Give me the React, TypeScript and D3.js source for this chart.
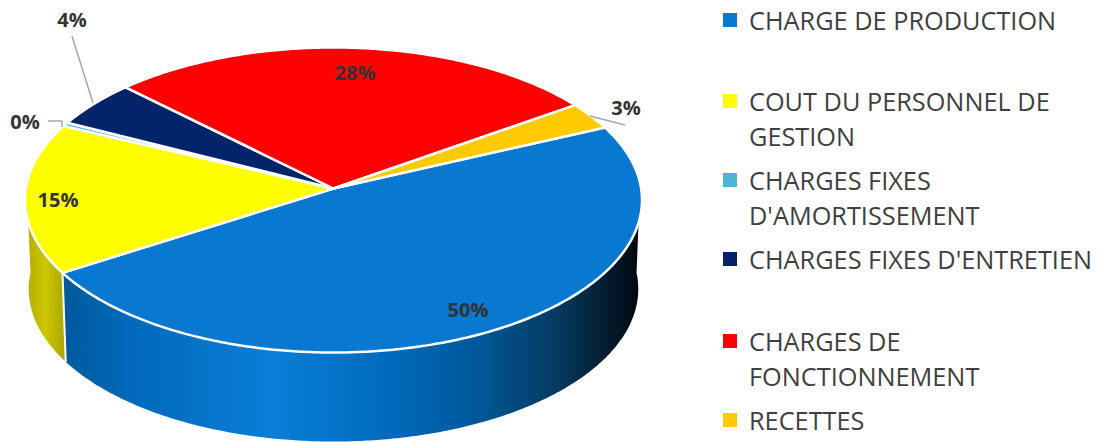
import React from "react";
import * as d3 from "d3";

const categories = [
  ["CHARGE DE PRODUCTION"],
  ["COUT DU PERSONNEL DE", "GESTION"],
  ["CHARGES FIXES", "D'AMORTISSEMENT"],
  ["CHARGES FIXES D'ENTRETIEN"],
  ["CHARGES DE", "FONCTIONNEMENT"],
  ["RECETTES"],
];
// printed labels
const percentLabels = ["50%", "15%", "0%", "4%", "28%", "3%"];
// share of the rim each slice really takes up in the drawing (%)
const slices = [47.7, 15.9, 0.4, 5.0, 27.8, 2.9];
const colors = ["#0878d0", "#ffff00", "#4fb5d6", "#04246a", "#ff0000", "#ffcb00"];

const legendY = [20, 101, 180, 259, 341, 420];
const labelSpots: [number, number][] = [
  [468, 309],
  [58, 199],
  [25, 121],
  [72, 19],
  [355, 72],
  [626, 107],
];
const leaders: [number, number][][] = [
  [[72, 36], [93, 103]],
  [[48, 121], [62, 121], [62, 127]],
  [[590, 116], [625, 125]],
];

const width = 1108;
const height = 443;
const cx = 333.5;
const apexY = 188.5;
const depth = 89;
const persp = -0.0754; // nearer rim looks bigger
const yGain = 137.46;
const xGain = 307.6;

// angle is clockwise from the back of the disc
function project(angle: number, r = 1, shrink = 1, drop = 0): [number, number] {
  const u = Math.sin(angle) * r;
  const v = -Math.cos(angle) * r;
  const w = 1 + persp * v;
  return [cx + (xGain * shrink * u) / w, (yGain * v + apexY) / w + drop];
}

function rim(a0: number, a1: number, shrink = 1, drop = 0) {
  const n = Math.max(2, Math.ceil(Math.abs(a1 - a0) / 0.01));
  return d3.range(n + 1).map((i) => project(a0 + ((a1 - a0) * i) / n, 1, shrink, drop));
}

const lineGen = d3.line();
const pieGen = d3
  .pie<number>()
  .sort(null)
  .startAngle((65.5 * Math.PI) / 180)
  .endAngle((65.5 * Math.PI) / 180 + 2 * Math.PI);

const sideFrom = Math.PI * 0.49; // right extreme of the visible wall
const sideTo = Math.PI * 1.51; // left extreme

const blueStops: [number, string][] = [
  [0, "#005a9c"],
  [0.1, "#0068b8"],
  [0.36, "#0a7ed8"],
  [0.56, "#006bbd"],
  [0.72, "#005798"],
  [0.86, "#06385c"],
  [1, "#00060c"],
];
const yellowStops: [number, string][] = [
  [0, "#b0ac00"],
  [0.5, "#cbc700"],
  [1, "#a8a400"],
];

export default function App() {
  const arcs = pieGen(slices);
  const blue = arcs[0];
  const yellow = arcs[1];

  const wall = (a0: number, a1: number) => {
    const top = rim(a0, a1);
    const bottom = rim(a1, a0, 0.988, depth);
    return lineGen([...top, ...bottom]) + "Z";
  };

  return (
    <svg
      width={width}
      height={height}
      style={{ position: "absolute", left: 0, top: 0, background: "#fff" }}
      fontFamily="'Open Sans', sans-serif"
    >
      <defs>
        <linearGradient id="wallBlue" gradientUnits="userSpaceOnUse" x1={65} x2={642} y1={0} y2={0}>
          {blueStops.map(([o, c]) => (
            <stop key={o} offset={o} stopColor={c} />
          ))}
        </linearGradient>
        <linearGradient id="wallYellow" gradientUnits="userSpaceOnUse" x1={25} x2={66} y1={0} y2={0}>
          {yellowStops.map(([o, c]) => (
            <stop key={o} offset={o} stopColor={c} />
          ))}
        </linearGradient>
      </defs>

      <path d={wall(sideFrom, blue.endAngle)} fill="url(#wallBlue)" />
      <path d={wall(yellow.startAngle, sideTo)} fill="url(#wallYellow)" />
      <path
        d={lineGen([project(yellow.startAngle), project(yellow.startAngle, 1, 0.988, depth)]) || ""}
        stroke="#fff"
        strokeWidth={2}
        fill="none"
      />

      {arcs.map((a, i) => (
        <path
          key={i}
          d={lineGen([[cx, apexY], ...rim(a.startAngle, a.endAngle)]) + "Z"}
          fill={colors[i]}
          stroke="#fff"
          strokeWidth={2.5}
          strokeLinejoin="round"
        />
      ))}

      {leaders.map((pts, i) => (
        <path key={i} d={lineGen(pts) || ""} fill="none" stroke="#a6a6a6" strokeWidth={1.5} />
      ))}

      {percentLabels.map((t, i) => (
        <text
          key={t}
          x={labelSpots[i][0]}
          y={labelSpots[i][1]}
          textAnchor="middle"
          dominantBaseline="central"
          fontSize={20}
          fontWeight={700}
          fill="#333"
        >
          {t}
        </text>
      ))}

      {categories.map((lines, i) => (
        <g key={i}>
          <rect x={723} y={legendY[i] - 7} width={14} height={14} fill={colors[i]} />
          {lines.map((l, j) => (
            <text
              key={l}
              x={749}
              y={legendY[i] + 10 + j * 35}
              fontSize={25.3}
              fill="#3f3f3f"
            >
              {l}
            </text>
          ))}
        </g>
      ))}
    </svg>
  );
}
